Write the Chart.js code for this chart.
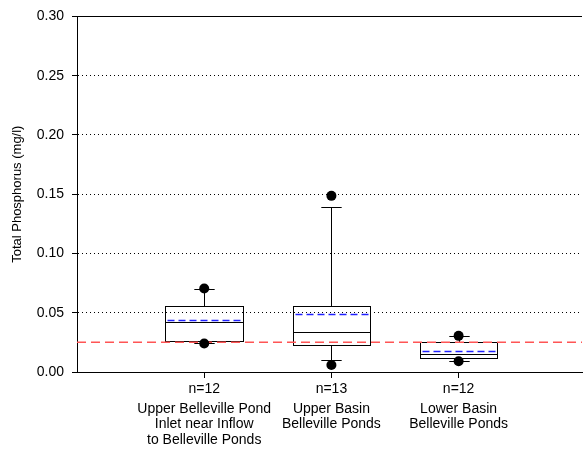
<!DOCTYPE html>
<html>
<head>
<meta charset="utf-8">
<script src="https://cdn.jsdelivr.net/npm/chart.js@4"></script>
<style>
  html, body { margin: 0; padding: 0; background: #fff; }
  #wrap { width: 587px; height: 451px; }
</style>
</head>
<body>
<div id="wrap"><canvas id="tp"></canvas></div>
<script>
const categories = [1, 2, 3];
const nLabels = ['n=12', 'n=13', 'n=12'];
const siteLabels = [
  ['Upper Belleville Pond', 'Inlet near Inflow', 'to Belleville Ponds'],
  ['Upper Basin', 'Belleville Ponds'],
  ['Lower Basin', 'Belleville Ponds']
];
const q1 = [0.0262, 0.0232, 0.0115];
const median = [0.0426, 0.0334, 0.0150];
const q3 = [0.0560, 0.0554, 0.0253];
const mean = [0.0435, 0.0487, 0.0178];
const whiskerLow = [0.0243, 0.0098, 0.0092];
const whiskerHigh = [0.0703, 0.1390, 0.0303];
const outlierLow = [0.0240, 0.0059, 0.0090];
const outlierHigh = [0.0705, 0.1486, 0.0305];
const guideline = 0.025;
const yTicks = [0, 0.05, 0.10, 0.15, 0.20, 0.25, 0.30];

const outlierPoints = [];
categories.forEach((c, i) => {
  outlierPoints.push({x: c, y: outlierHigh[i]});
  outlierPoints.push({x: c, y: outlierLow[i]});
});

const crisp = v => Math.round(v) + 0.5;

// boxes, whiskers, medians and means drawn through the scales
const boxPlugin = {
  id: 'boxes',
  beforeDatasetsDraw(chart) {
    const ctx = chart.ctx;
    const xs = chart.scales.x, ys = chart.scales.y;
    const unit = xs.getPixelForValue(1) - xs.getPixelForValue(0);
    const half = unit * 0.305;
    const cap = unit * 0.08;
    ctx.save();
    categories.forEach((c, i) => {
      const x = xs.getPixelForValue(c);
      const l = crisp(x - half), r = crisp(x + half), xm = crisp(x);
      const yq1 = crisp(ys.getPixelForValue(q1[i]));
      const yq3 = crisp(ys.getPixelForValue(q3[i]));
      const ylo = crisp(ys.getPixelForValue(whiskerLow[i]));
      const yhi = crisp(ys.getPixelForValue(whiskerHigh[i]));
      const ymed = crisp(ys.getPixelForValue(median[i]));
      const ymean = crisp(ys.getPixelForValue(mean[i]));
      ctx.strokeStyle = '#000';
      ctx.lineWidth = 1;
      ctx.setLineDash([]);
      ctx.beginPath();
      ctx.moveTo(xm, yq3); ctx.lineTo(xm, yhi);
      ctx.moveTo(xm - cap, yhi); ctx.lineTo(xm + cap, yhi);
      ctx.moveTo(xm, yq1); ctx.lineTo(xm, ylo);
      ctx.moveTo(xm - cap, ylo); ctx.lineTo(xm + cap, ylo);
      ctx.stroke();
      ctx.strokeRect(l, yq3, r - l, yq1 - yq3);
      ctx.beginPath();
      ctx.moveTo(l, ymed); ctx.lineTo(r, ymed);
      ctx.stroke();
      ctx.strokeStyle = '#2020ff';
      ctx.lineWidth = 1.5;
      ctx.setLineDash([7, 4]);
      ctx.beginPath();
      ctx.moveTo(l + 2, ymean); ctx.lineTo(r - 2, ymean);
      ctx.stroke();
    });
    ctx.restore();
  },
  afterDraw(chart) {
    const a = chart.chartArea, ctx = chart.ctx;
    ctx.save();
    ctx.strokeStyle = '#000';
    ctx.lineWidth = 1;
    ctx.beginPath();
    ctx.moveTo(a.left, crisp(a.top));
    ctx.lineTo(a.right, crisp(a.top));
    ctx.stroke();
    ctx.restore();
  }
};

const font = {family: 'Liberation Sans, Arial, sans-serif', size: 14};

const config = {
  type: 'scatter',
  data: {
    datasets: [{
      label: 'Outliers',
      data: outlierPoints,
      pointRadius: 5,
      pointBackgroundColor: '#000',
      pointBorderColor: '#000',
      pointBorderWidth: 0
    }, {
      type: 'line',
      label: 'Guideline',
      data: [{x: 0, y: guideline}, {x: 3.97, y: guideline}],
      borderColor: '#ff5555',
      borderWidth: 1.5,
      borderDash: [9, 5],
      pointRadius: 0,
      fill: false
    }]
  },
  options: {
    responsive: true,
    maintainAspectRatio: false,
    animation: false,
    layout: { padding: {top: 13, left: 0, right: 0, bottom: 0} },
    plugins: {
      legend: { display: false },
      tooltip: { enabled: false }
    },
    scales: {
      x: {
        type: 'linear',
        position: 'bottom',
        weight: 1,
        min: 0,
        max: 3.97,
        afterBuildTicks: s => { s.ticks = categories.map(v => ({value: v})); },
        afterFit: s => { s.height = 25; },
        grid: { display: true, drawOnChartArea: false, drawTicks: true, tickLength: 6, tickColor: '#000' },
        border: { display: true, color: '#000', width: 1 },
        ticks: {
          color: '#000',
          font: font,
          padding: 3,
          maxRotation: 0,
          autoSkip: false,
          callback: v => nLabels[categories.indexOf(v)]
        }
      },
      x2: {
        type: 'linear',
        axis: 'x',
        position: 'bottom',
        weight: 2,
        min: 0,
        max: 3.97,
        afterBuildTicks: s => { s.ticks = categories.map(v => ({value: v})); },
        afterFit: s => { s.height = 54; },
        grid: { display: false },
        border: { display: false },
        ticks: {
          color: '#000',
          font: {family: font.family, size: 14, lineHeight: 1.12},
          padding: -4,
          maxRotation: 0,
          autoSkip: false,
          callback: v => siteLabels[categories.indexOf(v)]
        }
      },
      y: {
        type: 'linear',
        min: 0,
        max: 0.3,
        afterBuildTicks: s => { s.ticks = yTicks.map(v => ({value: v})); },
        afterFit: s => { s.width = 77; },
        grid: {
          color: c => (c.tick && (c.tick.value === 0 || Math.abs(c.tick.value - 0.3) < 1e-9)) ? 'rgba(0,0,0,0)' : '#000',
          lineWidth: 1,
          tickLength: 5,
          tickColor: '#000'
        },
        border: { display: true, color: '#000', width: 1, dash: [1, 3] },
        ticks: {
          color: '#000',
          font: font,
          padding: 8,
          callback: v => v.toFixed(2)
        },
        title: {
          display: true,
          text: 'Total Phosphorus (mg/l)',
          color: '#000',
          font: {family: font.family, size: 13},
          padding: {top: 10, bottom: 0}
        }
      }
    }
  },
  plugins: [boxPlugin]
};

new Chart(document.getElementById('tp'), config);
</script>
</body>
</html>
